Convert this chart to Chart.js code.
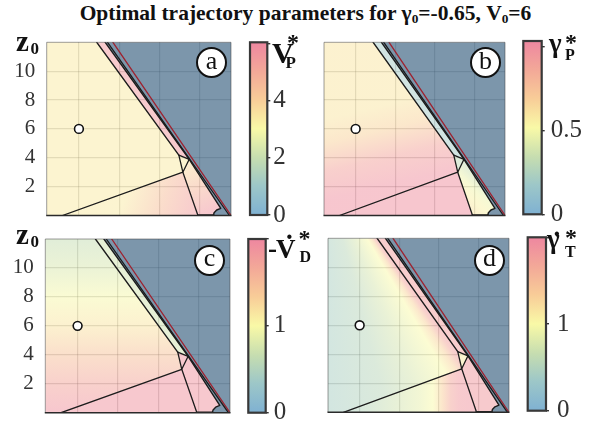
<!DOCTYPE html>
<html>
<head>
<meta charset="utf-8">
<script src="https://cdn.jsdelivr.net/npm/chart.js"></script>
<style>
html,body{margin:0;padding:0;background:#fff}
body{position:relative;width:597px;height:423px;overflow:hidden;font-family:"Liberation Serif","Times New Roman",serif;color:#222}
canvas{position:absolute;z-index:1}
.txt{position:absolute;white-space:nowrap;line-height:1;z-index:3}
.txt sub{font-size:0.62em;vertical-align:-0.22em;line-height:1}
.tag{position:absolute;z-index:4;box-sizing:border-box;width:31px;height:31px;border:2px solid #111;border-radius:50%;background:#fff;font-size:26px;line-height:1;color:#111;display:flex;align-items:center;justify-content:center}
.tag span{position:relative;top:-2px}
</style>
</head>
<body>
<div class="txt" style="left:305.5px;top:3px;font-size:21.5px;font-weight:bold;color:#111;transform:translateX(-50%)">Optimal trajectory parameters for γ<sub>0</sub>=-0.65, V<sub>0</sub>=6</div>
<div class="tag" style="left:196px;top:47px"><span>a</span></div>
<div class="tag" style="left:470px;top:47px"><span>b</span></div>
<div class="tag" style="left:194px;top:244.5px"><span>c</span></div>
<div class="tag" style="left:474px;top:244.5px"><span>d</span></div>
<script>
const SERIF = '"Liberation Serif", "Times New Roman", serif';

// ---- plot domain --------------------------------------------------------
const X_RANGE = [-0.8, 3.775];
const Y_RANGE = [0, 12];
const X_GRID = [0, 1, 2, 3];
const Y_TICKS = [2, 4, 6, 8, 10];

// ---- region corners (x, z0) ---------------------------------------------
const T1 = [2.48, 4.18];      // upper end of the wedge
const J1 = [2.738, 3.895];    // right corner of the wedge
const J2 = [2.58, 3.0];       // lower corner where the arcs meet
const WEDGE_MID = [2.53, 3.6];
const B1 = [-0.41, 0];
const B2 = [2.955, 0];
const ARC = [[3.521, 0.5], [3.42, 0.38], [3.355, 0.19], [3.338, 0]];
const EDGE1_TOP = [0.442, 12];
const EDGE2_TOP = [0.652, 12];
const EDGE3 = [[0.71, 12], [3.735, 0]];
const LIMIT = [[0.844, 12], [3.775, 0]];
const START = [[0, 6]];

const UPPER = [[-0.8, 12], EDGE1_TOP, T1, WEDGE_MID, J2, B1, [-0.8, 0]];
const BAND = [EDGE1_TOP, EDGE2_TOP, J1, T1];
const WEDGE = [T1, J1, J2, WEDGE_MID];
const LOWER = [B1, J2, B2];
const SIDE = [J2, J1, ...ARC, B2];
const BLOCKED = [EDGE2_TOP, [3.775, 12], [3.775, 0], ...ARC.slice().reverse(), J1];
const EDGE1 = [EDGE1_TOP, T1];
const EDGE2 = [EDGE2_TOP, J1, ...ARC];
const WEDGE_EDGE = [T1, J1, J2, WEDGE_MID, T1];
const DIVIDE = [B1, J2, B2];
const BASE = [B2, [3.338, 0]];

// ---- field values per panel ---------------------------------------------
// V_P* (panel a)
const VP_MAX = 6.05;
const VP_UPPER = 3.4, VP_BAND = 5.6, VP_WEDGE = 3.4;
const VP_LOWER = { kind: 'linear', from: [1.18, 1.6], to: [2.9, 0], stops: [[0, 3.4], [0.5, 4.5], [1, 5.6]] };
const VP_SIDE = { kind: 'linear', from: [2.7, 3.8], to: [3.35, 0.2], stops: [[0, 3.6], [0.5, 4.7], [1, 5.8]] };
const VP_TICKS = [0, 2, 4, 6];
const VP_LABELS = ['0', '2', '4', ''];

// gamma_P* (panel b)
const GP_MAX = 1.036;
const GP_UPPER = { kind: 'linear', from: [0.5, 7.5], to: [0.95, 2.2], stops: [[0, 0.6], [0.3, 0.68], [0.65, 0.9], [1, 1.0]] };
const GP_BAND = 0.2, GP_WEDGE = 0.3, GP_LOWER = 1.0;
const GP_SIDE = { kind: 'linear', from: [2.738, 3.895], to: [1.75, 1.127], stops: [[0, 0.3], [0.25, 0.48], [0.4, 0.55], [0.6, 0.62], [1, 0.62]] };
const GP_TICKS = [0, 0.5, 1];
const GP_LABELS = ['0', '0.5', ''];

// -dV_D* (panel c)
const VD_MAX = 2;
const VD_UPPER = { kind: 'linear', axis: 1, from: [0, 12], to: [0, 0], stops: [[12, 0.64], [10, 0.78], [8, 0.98], [6, 1.17], [4, 1.45], [2, 1.72], [0, 1.92]] };
const VD_BAND = 0.72, VD_WEDGE = 1.9, VD_LOWER = 1.9, VD_SIDE = 1.9;
const VD_TICKS = [0, 1, 2];
const VD_LABELS = ['0', '1', ''];

// d(gamma_T)* (panel d)
const GT_MAX = 2;
const GT_UPPER = { kind: 'fan', center: [-0.94, 17.3], level: 4.1, stops: [[-0.8, 0.42], [0.32, 0.55], [1.05, 0.75], [1.87, 1.0], [2.15, 1.3], [2.35, 1.7], [2.5, 1.85]] };
const GT_BAND = 1.8, GT_WEDGE = 1.1, GT_SIDE = 1.85;
const GT_LOWER = { kind: 'linear', axis: 0, from: [-0.4, 1], to: [2.96, 1], stops: [[-0.4, 0.45], [0.22, 0.55], [1.05, 0.75], [1.55, 0.88], [1.85, 1.0], [2.1, 1.35], [2.3, 1.7], [2.5, 1.85], [2.96, 1.9]] };
const GT_TICKS = [0, 1, 2];
const GT_LABELS = ['0', '1', ''];

// ---- colours -------------------------------------------------------------
const CMAP = [[0, [127, 177, 210]], [0.17, [157, 199, 200]], [0.33, [198, 221, 176]], [0.5, [249, 249, 167]], [0.67, [248, 204, 152]], [0.83, [243, 169, 152]], [1, [238, 135, 160]]];
const FIELD_ALPHA = 0.5;
const BLOCKED_COLOR = 'rgba(68,106,135,0.7)';
const GRID_COLOR = 'rgba(0,0,0,0.2)';
const LINE_COLOR = '#1c1c1c';
const LIMIT_COLOR = '#9e2330';

function cmapRGB(t) {
  t = Math.max(0, Math.min(1, t));
  for (let i = 1; i < CMAP.length; i++) {
    const [t1, c1] = CMAP[i], [t0, c0] = CMAP[i - 1];
    if (t <= t1) {
      const f = (t - t0) / (t1 - t0);
      return c0.map((c, k) => Math.round(c + (c1[k] - c) * f));
    }
  }
  return CMAP[CMAP.length - 1][1];
}
function tint(t, a) {
  const c = cmapRGB(t);
  return `rgba(${c[0]},${c[1]},${c[2]},${a})`;
}

function toPx(chart, p) {
  return [chart.scales.x.getPixelForValue(p[0]), chart.scales.y.getPixelForValue(p[1])];
}

function paint(spec, max) {
  if (typeof spec === 'number') return tint(spec / max, FIELD_ALPHA);
  return (ctx) => {
    const chart = ctx.chart;
    if (!chart.chartArea || !chart.scales.x) return 'rgba(0,0,0,0)';
    const c = chart.ctx;
    if (spec.kind === 'linear') {
      const a = toPx(chart, spec.from), b = toPx(chart, spec.to);
      const g = c.createLinearGradient(a[0], a[1], b[0], b[1]);
      spec.stops.forEach(([s, v]) => {
        const f = spec.axis === undefined ? s : (s - spec.from[spec.axis]) / (spec.to[spec.axis] - spec.from[spec.axis]);
        g.addColorStop(Math.max(0, Math.min(1, f)), tint(v / max, FIELD_ALPHA));
      });
      return g;
    }
    // fan: isolines radiate from one centre point
    const o = toPx(chart, spec.center);
    const g = c.createConicGradient(0, o[0], o[1]);
    const st = spec.stops.map(([x, v]) => {
      const p = toPx(chart, [x, spec.level]);
      let ang = Math.atan2(p[1] - o[1], p[0] - o[0]);
      if (ang < 0) ang += 2 * Math.PI;
      return [ang / (2 * Math.PI), v];
    }).sort((u, w) => u[0] - w[0]);
    st.forEach(([f, v]) => g.addColorStop(f, tint(v / max, FIELD_ALPHA)));
    return g;
  };
}

// ---- frame around the plotting area --------------------------------------
const framePlugin = {
  id: 'frame',
  afterDraw(chart, args, opts) {
    const { left, top, right, bottom } = chart.chartArea;
    const c = chart.ctx;
    c.save();
    if (opts.bar) {
      c.strokeStyle = '#383838';
      c.lineWidth = 2.2;
      c.strokeRect(left, top, right - left, bottom - top);
    } else {
      c.strokeStyle = 'rgba(60,60,60,0.5)';
      c.lineWidth = 1;
      c.beginPath();
      c.moveTo(left, bottom); c.lineTo(left, top); c.lineTo(right, top); c.lineTo(right, bottom);
      c.stroke();
      c.strokeStyle = '#2a2a2a';
      c.lineWidth = 1.6;
      c.beginPath(); c.moveTo(left - 0.5, bottom); c.lineTo(right + 0.5, bottom); c.stroke();
    }
    c.restore();
  }
};

function makeCanvas(left, top, w, h) {
  const cv = document.createElement('canvas');
  cv.width = w; cv.height = h;
  cv.style.left = left + 'px'; cv.style.top = top + 'px';
  cv.style.width = w + 'px'; cv.style.height = h + 'px';
  document.body.appendChild(cv);
  return cv;
}

const xy = (pts) => pts.map(([x, y]) => ({ x, y }));

function fieldPanel(box, f, withLabels) {
  const left = withLabels ? 0 : Math.floor(box.L - 3);
  const top = Math.floor(box.T - 6);
  const w = Math.ceil(box.R + 4 - left), h = Math.ceil(box.B + 6 - top);
  const cv = makeCanvas(left, top, w, h);
  const axisW = box.L - left;
  const area = (pts, color) => ({ data: xy(pts), fill: 'shape', backgroundColor: color, borderColor: 'rgba(0,0,0,0)', borderWidth: 0, pointRadius: 0, order: 3 });
  const edge = (pts, color, width) => ({ data: xy(pts), fill: false, borderColor: color, borderWidth: width, borderJoinStyle: 'round', borderCapStyle: 'round', pointRadius: 0, order: 1 });
  new Chart(cv, {
    type: 'line',
    data: {
      datasets: [
        area(UPPER, paint(f.upper, f.max)),
        area(BAND, paint(f.band, f.max)),
        area(WEDGE, paint(f.wedge, f.max)),
        area(LOWER, paint(f.lower, f.max)),
        area(SIDE, paint(f.side, f.max)),
        area(BLOCKED, BLOCKED_COLOR),
        edge(EDGE1, LINE_COLOR, 1.4),
        edge(EDGE2, LINE_COLOR, 1.4),
        edge(EDGE3, LINE_COLOR, 1.3),
        edge(WEDGE_EDGE, LINE_COLOR, 1.3),
        edge(DIVIDE, LINE_COLOR, 1.3),
        edge(BASE, LINE_COLOR, 2.4),
        edge(LIMIT, LIMIT_COLOR, 1.3),
        { data: xy(START), showLine: false, pointRadius: 4.4, pointBackgroundColor: '#fff', pointBorderColor: '#111', pointBorderWidth: 1.6, order: 0 }
      ]
    },
    options: {
      responsive: false, animation: false, devicePixelRatio: 1,
      layout: { padding: { left: 0, top: box.T - top, right: w - (box.R - left), bottom: h - (box.B - top) } },
      plugins: { legend: { display: false }, tooltip: { enabled: false }, frame: {} },
      scales: {
        x: {
          type: 'linear', min: X_RANGE[0], max: X_RANGE[1],
          afterBuildTicks: (s) => { s.ticks = X_GRID.map((v) => ({ value: v })); },
          ticks: { display: false },
          grid: { color: GRID_COLOR, lineWidth: 1.2, drawTicks: false },
          border: { display: false },
          afterFit: (s) => { s.height = 0; s.paddingLeft = 0; s.paddingRight = 0; }
        },
        y: {
          type: 'linear', min: Y_RANGE[0], max: Y_RANGE[1],
          afterBuildTicks: (s) => { s.ticks = Y_TICKS.map((v) => ({ value: v })); },
          ticks: { display: withLabels, padding: 11.5, font: { family: SERIF, size: 21 }, color: '#333' },
          grid: { color: GRID_COLOR, lineWidth: 1.2, drawTicks: false },
          border: { display: false },
          afterFit: (s) => { s.width = axisW; s.paddingTop = 0; s.paddingBottom = 0; }
        }
      }
    },
    plugins: [framePlugin]
  });
}

function colorBar(box, max, ticks, labels, pad) {
  const left = Math.floor(box.L - 3), top = Math.floor(box.T - 12);
  const w = Math.ceil(box.R + 48 - left), h = Math.ceil(box.B + 16 - top);
  const cv = makeCanvas(left, top, w, h);
  const axisW = w - (box.R - left);
  new Chart(cv, {
    type: 'bar',
    data: {
      labels: [''],
      datasets: [{
        data: [max],
        backgroundColor: (ctx) => {
          const ca = ctx.chart.chartArea;
          if (!ca) return 'rgba(0,0,0,0)';
          const g = ctx.chart.ctx.createLinearGradient(0, ca.bottom, 0, ca.top);
          CMAP.forEach(([t, c]) => g.addColorStop(t, `rgb(${c[0]},${c[1]},${c[2]})`));
          return g;
        },
        barPercentage: 1, categoryPercentage: 1, borderWidth: 0
      }]
    },
    options: {
      responsive: false, animation: false, devicePixelRatio: 1,
      layout: { padding: { left: box.L - left, top: box.T - top, right: 0, bottom: h - (box.B - top) } },
      plugins: { legend: { display: false }, tooltip: { enabled: false }, frame: { bar: true } },
      scales: {
        x: { display: false },
        y: {
          position: 'right', min: 0, max: max,
          afterBuildTicks: (s) => { s.ticks = ticks.map((v) => ({ value: v })); },
          ticks: { callback: (v, i) => labels[i], padding: pad, font: { family: SERIF, size: 25 }, color: '#333' },
          grid: { drawOnChartArea: false, drawTicks: true, tickLength: 3, color: '#333', lineWidth: 1.4 },
          border: { display: false },
          afterFit: (s) => { s.width = axisW; s.paddingTop = 0; s.paddingBottom = 0; }
        }
      }
    },
    plugins: [framePlugin]
  });
}

// ---- panels ----------------------------------------------------------------
fieldPanel({ L: 46.7, T: 42.3, R: 232.2, B: 215.5 },
  { max: VP_MAX, upper: VP_UPPER, band: VP_BAND, wedge: VP_WEDGE, lower: VP_LOWER, side: VP_SIDE }, true);
fieldPanel({ L: 321.7, T: 42.3, R: 507, B: 215.5 },
  { max: GP_MAX, upper: GP_UPPER, band: GP_BAND, wedge: GP_WEDGE, lower: GP_LOWER, side: GP_SIDE }, false);
fieldPanel({ L: 45.3, T: 239, R: 231.6, B: 412.7 },
  { max: VD_MAX, upper: VD_UPPER, band: VD_BAND, wedge: VD_WEDGE, lower: VD_LOWER, side: VD_SIDE }, true);
fieldPanel({ L: 325, T: 238.3, R: 510.6, B: 412.3 },
  { max: GT_MAX, upper: GT_UPPER, band: GT_BAND, wedge: GT_WEDGE, lower: GT_LOWER, side: GT_SIDE }, false);

colorBar({ L: 250, T: 42.3, R: 267.3, B: 215 }, VP_MAX, VP_TICKS, VP_LABELS, 3);
colorBar({ L: 523.3, T: 41, R: 541.7, B: 214.3 }, GP_MAX, GP_TICKS, GP_LABELS, 6);
colorBar({ L: 248.3, T: 239, R: 265.7, B: 412.7 }, VD_MAX, VD_TICKS, VD_LABELS, 5);
colorBar({ L: 527.7, T: 237.3, R: 546, B: 410.7 }, GT_MAX, GT_TICKS, GT_LABELS, 8);

// ---- axis and colour-bar captions --------------------------------------------
function put(text, x, base, size, bold) {
  const d = document.createElement('div');
  d.className = 'txt';
  d.textContent = text;
  d.style.left = x + 'px';
  d.style.top = (base - 0.8375 * size) + 'px';
  d.style.fontSize = size + 'px';
  if (bold) d.style.fontWeight = 'bold';
  d.style.color = '#111';
  document.body.appendChild(d);
}
put('z', 16, 51, 29, true); put('0', 30.5, 54, 17, true);
put('z', 16, 244, 29, true); put('0', 30.5, 247, 17, true);

put('V', 272, 63.5, 30, true); put('*', 287, 50, 24, true); put('P', 285.5, 68, 17, true);
put('γ', 549, 53, 27, true); put('*', 565, 50, 24, true); put('P', 565, 60, 16, true);
put('-', 268, 258, 27, true); put('V', 276, 258.5, 27, true); put('.', 286, 240, 27, true); put('*', 298.5, 246, 24, true); put('D', 299.5, 262, 16, true);
put('γ', 547, 249, 27, true); put('.', 553.5, 237, 27, true); put('*', 565, 245, 24, true); put('T', 565, 257.5, 16, true);
</script>
</body>
</html>
